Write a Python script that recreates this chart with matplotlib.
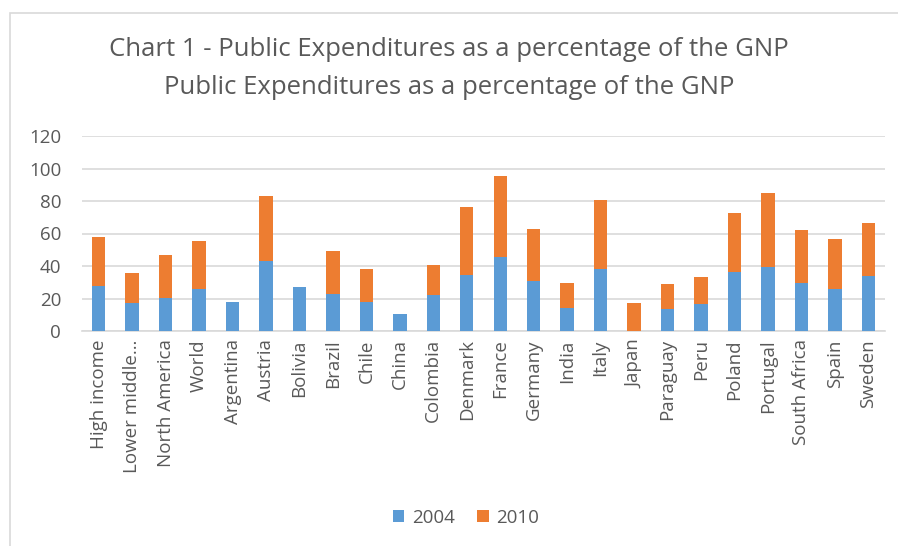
import matplotlib
matplotlib.use("Agg")
import matplotlib.pyplot as plt
import numpy as np
from matplotlib.patches import Rectangle

categories = ["High income", "Lower middle…", "North America", "World", "Argentina",
              "Austria", "Bolivia", "Brazil", "Chile", "China", "Colombia", "Denmark",
              "France", "Germany", "India", "Italy", "Japan", "Paraguay", "Peru",
              "Poland", "Portugal", "South Africa", "Spain", "Sweden"]
vals_2004 = [27.7, 17.0, 20.3, 26.1, 17.8, 43.1, 26.9, 22.6, 17.6, 10.7, 21.9, 34.3,
             45.3, 31.0, 14.4, 38.2, 0.0, 13.3, 16.4, 36.5, 39.6, 29.3, 25.6, 33.6]
vals_2010 = [29.9, 18.7, 26.5, 29.1, 0.0, 40.0, 0.0, 26.6, 20.6, 0.0, 18.5, 41.8,
             50.1, 31.8, 15.3, 42.4, 17.4, 15.4, 16.6, 36.1, 45.3, 32.6, 31.0, 32.7]

plt.rcParams['font.family'] = ['Open Sans', 'DejaVu Sans']
text_col = '#595959'

fig = plt.figure(figsize=(8.98, 5.46), dpi=100)
ax = fig.add_axes([82/898, 1-331/546, (885-82)/898, 195/546])

x = np.arange(len(categories))
ax.bar(x, vals_2004, width=0.4, color='#5b9bd5', label='2004', zorder=3)
ax.bar(x, vals_2010, width=0.4, bottom=vals_2004, color='#ed7d31', label='2010', zorder=3)

ax.set_xlim(-0.5, len(categories) - 0.5)
ax.set_ylim(0, 120)
ax.set_yticks(range(0, 121, 20))
ax.yaxis.grid(True, color='#d9d9d9', linewidth=1.2, zorder=0)
ax.set_xticks(x)
ax.set_xticklabels(categories, rotation=90, fontsize=13.5, color=text_col)
ax.tick_params(axis='y', labelsize=13.5, labelcolor=text_col, length=0, pad=15)
ax.tick_params(axis='x', length=0, pad=6)
for s in ['top', 'right', 'left']:
    ax.spines[s].set_visible(False)
ax.spines['bottom'].set_color('#d9d9d9')
ax.spines['bottom'].set_linewidth(1.2)

fig.text(0.5, 1-50/546, "Chart 1 - Public Expenditures as a percentage of the GNP",
         ha='center', va='center', fontsize=18.5, color=text_col)
fig.text(0.5, 1-88/546, "Public Expenditures as a percentage of the GNP",
         ha='center', va='center', fontsize=18.5, color=text_col)

fig.legend(loc='center', bbox_to_anchor=(466/898, 1-518/546), ncol=2, frameon=False,
           fontsize=13.5, labelcolor=text_col, handlelength=0.6, handleheight=0.6,
           columnspacing=1.2, handletextpad=0.4)

fig.patches.append(Rectangle((10/898, -0.1), 1.0, 1-13/546+0.1, transform=fig.transFigure,
                             fill=False, edgecolor='#d9d9d9', linewidth=1.2))

fig.savefig("out.png", dpi=100)
